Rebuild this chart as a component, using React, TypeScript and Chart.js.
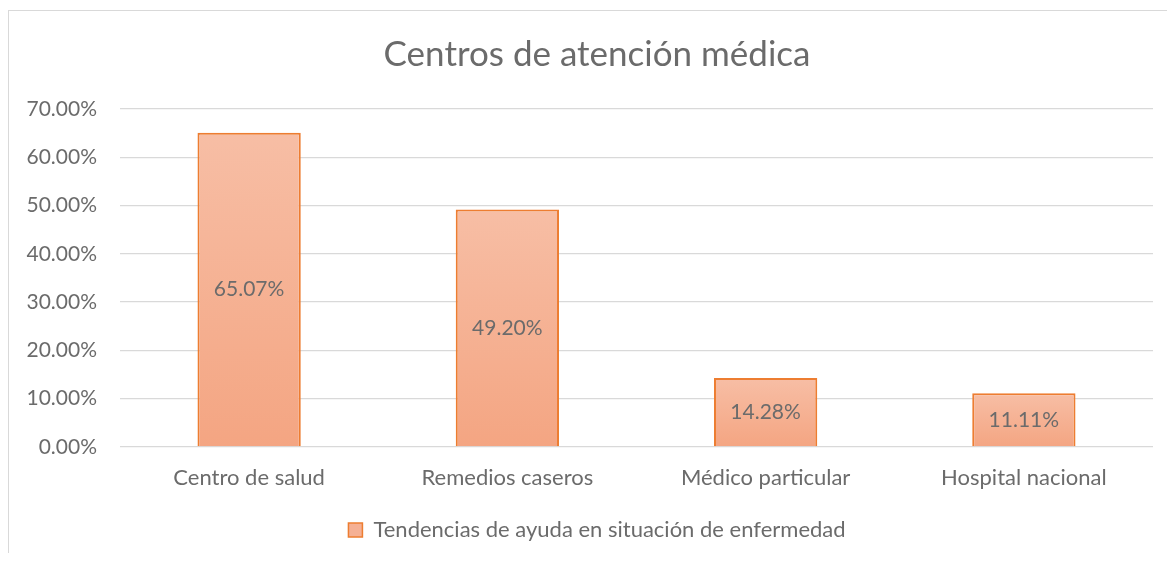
import React, { useEffect, useRef } from "react";
import { Chart, registerables } from "chart.js";

Chart.register(...registerables);

const categories = ["Centro de salud", "Remedios caseros", "Médico particular", "Hospital nacional"];
const seriesName = "Tendencias de ayuda en situación de enfermedad";
const values = [65.07, 49.2, 14.28, 11.11];
const yTicks = [0, 10, 20, 30, 40, 50, 60, 70];
const chartTitle = "Centros de atención médica";

const FONT = "Lato";
const TEXT = "#6b6b6b";

const dataLabelPlugin = {
  id: "dataLabels",
  afterDatasetsDraw(chart: any) {
    const ctx = chart.ctx;
    const meta = chart.getDatasetMeta(0);
    ctx.save();
    ctx.font = `21px ${FONT}`;
    ctx.fillStyle = TEXT;
    ctx.textAlign = "center";
    ctx.textBaseline = "middle";
    meta.data.forEach((el: any, i: number) => {
      const v = values[i];
      ctx.fillText(v.toFixed(2) + "%", el.x, (el.y + el.base) / 2);
    });
    ctx.restore();
  },
};

export default function App() {
  const ref = useRef<HTMLCanvasElement>(null);
  useEffect(() => {
    if (!ref.current) return;
    const chart = new Chart(ref.current, {
      type: "bar",
      data: {
        labels: categories,
        datasets: [
          {
            label: seriesName,
            data: values,
            yAxisID: "y",
            backgroundColor: (c: any) => {
              const ch = c.chart;
              if (!ch.chartArea || c.dataIndex == null || !ch.scales.y) return "#f5b094";
              const yTop = ch.scales.y.getPixelForValue(c.raw);
              const yBot = ch.scales.y.getPixelForValue(0);
              const g = ch.ctx.createLinearGradient(0, yTop, 0, yBot);
              g.addColorStop(0, "#f7bea5");
              g.addColorStop(1, "#f4a582");
              return g;
            },
            borderColor: "#ed7d31",
            borderWidth: 2,
            categoryPercentage: 1,
            barPercentage: 0.4,
          },
        ],
      },
      options: {
        animation: false,
        responsive: true,
        maintainAspectRatio: false,
        layout: { padding: { left: 0, right: 0, top: 0, bottom: 2 } },
        plugins: {
          title: {
            display: true,
            text: chartTitle,
            color: TEXT,
            font: { family: FONT, size: 35, weight: "normal" },
            padding: { top: 23, bottom: 33 },
          },
          legend: {
            position: "bottom",
            labels: {
              color: TEXT,
              font: { family: FONT, size: 22 },
              boxWidth: 14,
              boxHeight: 14,
              padding: 10,
              generateLabels: () => [
                {
                  text: seriesName,
                  fillStyle: "#f5b094",
                  strokeStyle: "#ed7d31",
                  lineWidth: 1.5,
                  fontColor: TEXT,
                  datasetIndex: 0,
                } as any,
              ],
            },
          },
          tooltip: { enabled: false },
        },
        scales: {
          x: {
            grid: { display: false },
            border: { display: false },
            ticks: { color: TEXT, font: { family: FONT, size: 22 }, padding: 10 },
            afterFit: (s: any) => {
              s.height = 62;
            },
          },
          y: {
            position: "left",
            min: 0,
            max: 70,
            afterBuildTicks: (s: any) => {
              s.ticks = yTicks.map((v) => ({ value: v }));
            },
            grid: { color: "#d9d9d9", lineWidth: 1.3, drawTicks: false },
            border: { display: false },
            ticks: {
              color: TEXT,
              font: { family: FONT, size: 21 },
              padding: 23,
              callback: (v: any) => Number(v).toFixed(2) + "%",
            },
            afterFit: (s: any) => {
              s.width = 111;
            },
          },
          spacer: {
            type: "linear",
            position: "right",
            min: 0,
            max: 70,
            grid: { display: false, drawTicks: false },
            border: { display: false },
            ticks: { display: false },
            afterFit: (s: any) => {
              s.width = 32;
            },
          },
        },
      },
      plugins: [dataLabelPlugin],
    });
    return () => chart.destroy();
  }, []);

  return (
    <div style={{ width: 1159, height: 545, overflow: "hidden" }}>
      <div
        style={{
          position: "relative",
          top: 2,
          width: 1177,
          height: 543,
          boxSizing: "border-box",
          borderLeft: "1px solid #d9d9d9",
          borderTop: "1px solid #d9d9d9",
          background: "#fff",
        }}
      >
        <canvas ref={ref} />
      </div>
    </div>
  );
}
